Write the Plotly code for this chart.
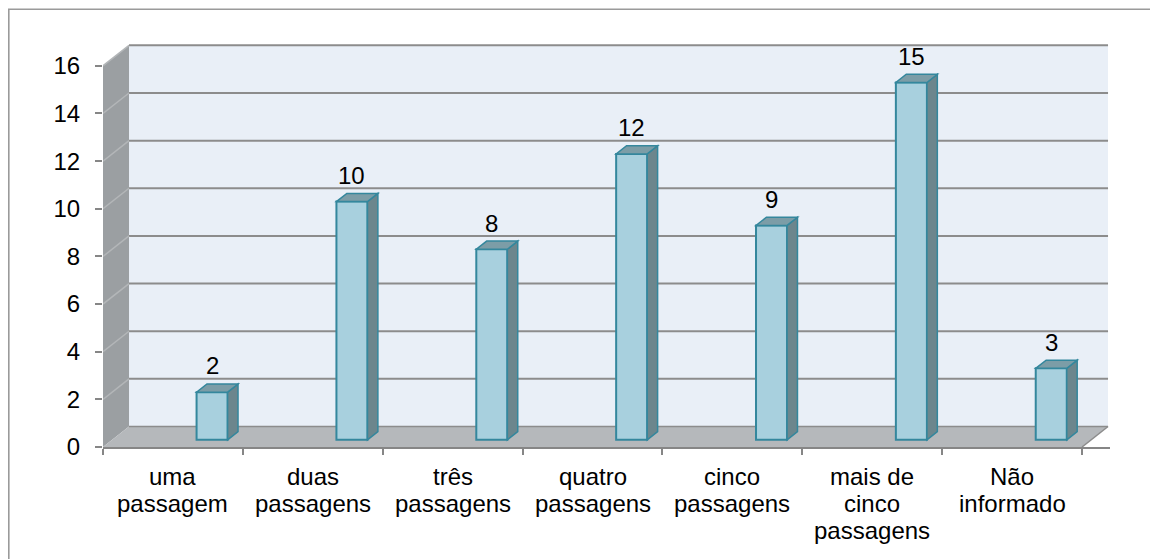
import plotly.graph_objects as go

# ---------------- data ----------------
categories = ["uma<br>passagem", "duas<br>passagens", "três<br>passagens",
              "quatro<br>passagens", "cinco<br>passagens",
              "mais de<br>cinco<br>passagens", "Não<br>informado"]
values = [2, 10, 8, 12, 9, 15, 3]
y_ticks = [0, 2, 4, 6, 8, 10, 12, 14, 16]

# ---------------- layout constants ----------------
W, H = 1158, 559
PAGE_OFF = 8  # browser body margin
ML, MT = 103 - PAGE_OFF, 42 - PAGE_OFF
PW, PH = 1007, 405
MR, MB = W - ML - PW, H - MT - PH
n = len(categories)
Y_TOP = y_ticks[-1]
X_RANGE = [0, 7.2]
Y_RANGE = [0, 17]

# pseudo-3D depth offsets (data units)
DX, DY = 0.186, 0.86
BAR_W = 0.222
BAR_SHIFT = 0.28
BAR_F0 = 0.35
BAR_DF = 0.4

FONT = "Arial, Liberation Sans, sans-serif"
WALL_BACK = "#e9eff7"
WALL_SIDE = "#9b9fa2"
FLOOR = "#b5b8bb"
GRID = "#8c8c8c"
AXIS = "#868686"
BAR_FRONT = "#a8d0de"
BAR_TOP = "#7c9da7"
BAR_SIDE = "#6c868d"
BAR_EDGE = "#34879d"


def path(pts):
    return "M " + " L ".join(f"{x},{y}" for x, y in pts) + " Z"


shapes = []
# back wall
shapes.append(dict(type="path", xref="x", yref="y", layer="below",
                   path=path([(DX, DY), (n + DX, DY), (n + DX, Y_TOP + DY), (DX, Y_TOP + DY)]),
                   fillcolor=WALL_BACK, line=dict(width=0)))
# side wall
shapes.append(dict(type="path", xref="x", yref="y", layer="below",
                   path=path([(0, 0), (DX, DY), (DX, Y_TOP + DY), (0, Y_TOP)]),
                   fillcolor=WALL_SIDE, line=dict(width=0)))
# floor
shapes.append(dict(type="path", xref="x", yref="y", layer="below",
                   path=path([(0, 0), (n, 0), (n + DX, DY), (DX, DY)]),
                   fillcolor=FLOOR, line=dict(width=0)))
# gridlines on back wall and side wall
for v in y_ticks:
    if v == 0:
        shapes.append(dict(type="line", xref="x", yref="y", layer="below",
                           x0=DX, y0=DY, x1=n + DX, y1=DY, line=dict(color=GRID, width=1.5)))
        shapes.append(dict(type="line", xref="x", yref="y", layer="below",
                           x0=n, y0=0, x1=n + DX, y1=DY, line=dict(color=GRID, width=1.5)))
        continue
    shapes.append(dict(type="line", xref="x", yref="y", layer="below",
                       x0=DX, y0=v + DY, x1=n + DX, y1=v + DY,
                       line=dict(color=GRID, width=2)))
    shapes.append(dict(type="line", xref="x", yref="y", layer="below",
                       x0=0, y0=v, x1=DX, y1=v + DY,
                       line=dict(color="#b3b6b8", width=1.5)))

# bars: top and side faces
base = BAR_F0 * DY
bdx, bdy = BAR_DF * DX, BAR_DF * DY
centers = [i + 0.5 + BAR_SHIFT for i in range(n)]
for c, v in zip(centers, values):
    xl, xr = c - BAR_W / 2, c + BAR_W / 2
    top = v + base
    shapes.append(dict(type="path", xref="x", yref="y",
                       path=path([(xr, base), (xr + bdx, base + bdy), (xr + bdx, top + bdy), (xr, top)]),
                       fillcolor=BAR_SIDE, line=dict(color=BAR_EDGE, width=1.5)))
    shapes.append(dict(type="path", xref="x", yref="y",
                       path=path([(xl, top), (xr, top), (xr + bdx, top + bdy), (xl + bdx, top + bdy)]),
                       fillcolor=BAR_TOP, line=dict(color=BAR_EDGE, width=1.5)))

# outer chart frame (paper coordinates; left/top edges visible, others off-page)
FR_X0, FR_Y0 = 0.8, 1.2
shapes.append(dict(type="rect", xref="paper", yref="paper",
                   x0=(FR_X0 - ML) / PW, x1=(W + 30 - ML) / PW,
                   y0=(H - MB - (H + 30)) / PH, y1=(H - MB - FR_Y0) / PH,
                   line=dict(color="#9a9a9a", width=1.6), fillcolor="rgba(0,0,0,0)"))

fig = go.Figure()
fig.add_trace(go.Bar(x=centers, y=values, base=[base] * n, width=BAR_W,
                     marker=dict(color=BAR_FRONT, line=dict(color=BAR_EDGE, width=2)),
                     hoverinfo="skip", showlegend=False))

annotations = []
# value labels
for c, v in zip(centers, values):
    annotations.append(dict(x=c, y=v + base + bdy, xref="x", yref="y", text=str(v),
                            showarrow=False, yanchor="middle", yshift=18,
                            font=dict(family=FONT, size=24, color="#000")))
# category labels (one annotation per line for tight line spacing)
for i, cat in enumerate(categories):
    for j, line in enumerate(cat.split("<br>")):
        annotations.append(dict(x=i + 0.5, y=0, xref="x", yref="y", text=line,
                                showarrow=False, yanchor="middle", yshift=-29 - 27 * j,
                                font=dict(family=FONT, size=24, color="#000")))

fig.update_layout(
    width=W, height=H,
    margin=dict(l=ML, r=MR, t=MT, b=MB, pad=0),
    paper_bgcolor="white", plot_bgcolor="white",
    shapes=shapes, annotations=annotations,
    showlegend=False,
    xaxis=dict(range=X_RANGE, tickvals=list(range(n + 1)), showticklabels=False,
               ticks="outside", ticklen=6, tickcolor=AXIS, tickwidth=1.5,
               showgrid=False, zeroline=False, showline=True, linecolor=AXIS, linewidth=1.5,
               fixedrange=True),
    yaxis=dict(range=Y_RANGE, tickvals=y_ticks, ticktext=[str(t) for t in y_ticks],
               ticks="outside", ticklen=7, tickcolor=AXIS, tickwidth=1.5,
               ticklabelstandoff=10,
               tickfont=dict(family=FONT, size=24, color="#000"),
               showgrid=False, zeroline=False, showline=False, fixedrange=True),
)

fig.write_html("out.html")
